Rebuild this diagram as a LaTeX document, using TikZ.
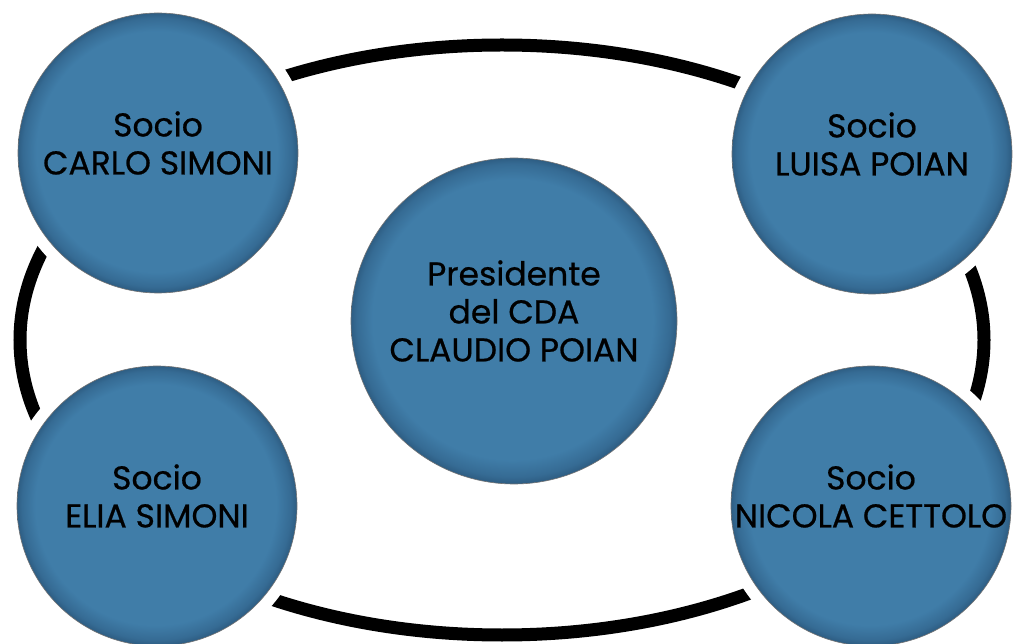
\documentclass[tikz,border=0pt]{standalone}
\usepackage{fontspec}
\setmainfont{Poppins}[FakeBold=0.6]
\usepackage{tikz}

\pgfdeclareradialshading{bevel}{\pgfpoint{-1.2bp}{1.2bp}}{%
  rgb(0bp)=(0.25,0.49,0.66);
  rgb(21.5bp)=(0.25,0.49,0.66);
  rgb(24bp)=(0.21,0.42,0.58);
  rgb(26.5bp)=(0.13,0.28,0.41)}

\begin{document}
\begin{tikzpicture}[x=1pt,y=-1pt,
  socio/.style={circle, minimum size=280pt, inner sep=0pt, shading=bevel,
    draw=black!55, line width=0.6pt,
    preaction={draw=white, fill=white, line width=24pt}},
  pres/.style={socio, minimum size=326pt},
  nome/.style={align=center, inner sep=0pt, text=black,
    font=\fontsize{33}{38}\selectfont}]
\useasboundingbox (0,0) rectangle (1013,644);
\clip (0,0) rectangle (1013,644);

\coordinate (TL) at (158,153);
\coordinate (TR) at (872,154);
\coordinate (BL) at (157,506);
\coordinate (BR) at (871,506);
\coordinate (P) at (514,321);

% anello
\draw[line width=13pt] (502,340) ellipse [x radius=482, y radius=295];

\node[socio] (carlo) at (TL) {};
\node[socio] (luisa) at (TR) {};
\node[socio] (elia) at (BL) {};
\node[socio] (nicola) at (BR) {};
\node[pres] (claudio) at (P) {};

\node[nome] (carlo-t) at ([yshift=10pt]carlo.center) {Socio\\CARLO SIMONI};
\node[nome] (luisa-t) at ([yshift=10pt]luisa.center) {Socio\\LUISA POIAN};
\node[nome] (elia-t) at ([yshift=10pt]elia.center) {Socio\\ELIA SIMONI};
\node[nome] (nicola-t) at ([yshift=10pt]nicola.center) {Socio\\NICOLA CETTOLO};
\node[nome] (claudio-t) at ([yshift=10pt]claudio.center) {Presidente\\del CDA\\CLAUDIO POIAN};
\end{tikzpicture}
\end{document}
